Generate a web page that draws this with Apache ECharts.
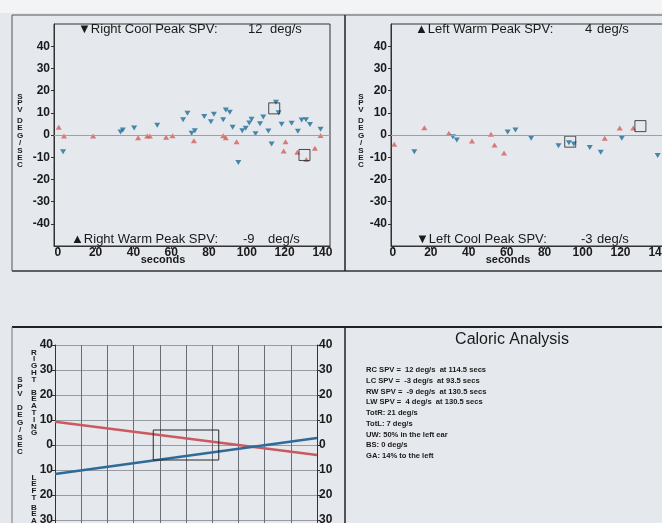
<!DOCTYPE html>
<html>
<head>
<meta charset="utf-8">
<script src="https://cdn.jsdelivr.net/npm/echarts@6.0.0/dist/echarts.min.js"></script>
<style>
html,body{margin:0;padding:0;background:#e5e8ed;}
#c{width:662px;height:523px;}
</style>
</head>
<body>
<div id="c"></div>
<script>
// ---------- DATA ----------
// Right ear (top-left panel)
const rightCoolSec = [2.8, 33.2, 34.4, 40.4, 52.6, 66.3, 68.6, 70.8, 72.5, 77.5, 81, 82.6, 87.5, 88.9, 91, 92.5, 95.5, 97.6, 99.4, 101.3, 102.5, 104.6, 107, 108.7, 111.4, 113.1, 115.4, 116.8, 118.4, 123.7, 127, 129, 131.3, 133.4, 139];
const rightCoolSpv = [-7.5, 1.4, 2.3, 3.2, 4.4, 6.9, 9.8, 0.8, 1.9, 8.3, 6, 9.4, 6.9, 11.3, 10.3, 3.5, -12.4, 1.9, 3, 5.4, 7.1, 0.6, 5.1, 8.1, 1.8, -4.1, 14.8, 10, 4.8, 5.3, 1.7, 6.8, 6.9, 4.7, 2.6];
const rightWarmSec = [0.5, 3.3, 18.7, 42.5, 47.3, 48.7, 57.3, 60.7, 72, 87.5, 88.9, 94.6, 119.5, 120.5, 126.7, 131.5, 136, 139];
const rightWarmSpv = [3.5, -0.5, -0.5, -1.2, -0.5, -0.5, -1, -0.3, -2.6, -0.3, -1.2, -3, -7.2, -3, -7.8, -11, -6, -0.2];
// Left ear (top-right panel)
const leftWarmSec = [0.7, 16.6, 29.5, 41.7, 51.7, 53.6, 58.6, 111.7, 119.6, 126.7];
const leftWarmSpv = [-4.2, 3.3, 0.8, -2.7, 0.3, -4.5, -8.1, -1.5, 3.2, 3.2];
const leftCoolSec = [11.3, 31.6, 33.7, 60.5, 64.6, 72.9, 87.3, 92.8, 95.4, 103.8, 109.6, 120.7, 139.6];
const leftCoolSpv = [-7.5, -0.8, -2.3, 1.4, 2.3, -1.5, -4.8, -3.5, -4.1, -5.6, -7.8, -1.5, -9.2];
// Peaks
const rcPeak = 12, rcPeakSec = 114.5;
const lcPeak = -3, lcPeakSec = 93.5;
const rwPeak = -9, rwPeakSec = 130.5;
const lwPeak = 4,  lwPeakSec = 130.5;
// Butterfly chart (bottom-left)
const butterflyX = [0, 10];
const rightBeatLine = [9.3, -4];
const leftBeatLine = [-11.6, 2.8];
const normalBoxX = [3.75, 6.25];
const normalBoxY = [-6, 6];
// Ticks
const secTicks = [0, 20, 40, 60, 80, 100, 120, 140];
const spvTicks = [-40, -30, -20, -10, 0, 10, 20, 30, 40];
const butterflyTicks = [-30, -20, -10, 0, 10, 20, 30, 40];
// Analysis text
const calLines = [
  'RC SPV =  ' + rcPeak + ' deg/s  at ' + rcPeakSec + ' secs',
  'LC SPV =  ' + lcPeak + ' deg/s  at ' + lcPeakSec + ' secs',
  'RW SPV =  ' + rwPeak + ' deg/s  at ' + rwPeakSec + ' secs',
  'LW SPV =  ' + lwPeak + ' deg/s  at ' + lwPeakSec + ' secs',
  'TotR: 21 deg/s',
  'TotL: 7 deg/s',
  'UW: 50% in the left ear',
  'BS: 0 deg/s',
  'GA: 14% to the left'
];

// ---------- STYLE ----------
const RED = '#d25e57', BLUE = '#1f6d96';
const FF = '"Liberation Sans", Arial, sans-serif';
const zip = (a, b) => a.map((v, i) => [v, b[i]]);

const chart = echarts.init(document.getElementById('c'), null, {renderer: 'canvas'});

function topX(gi, min) {
  return {
    type: 'value', gridIndex: gi, min: min, max: 144,
    axisLine: {show: true, onZero: false, lineStyle: {color: '#333'}},
    axisTick: {show: true, length: 3, inside: false, customValues: secTicks, lineStyle: {color: '#333'}},
    axisLabel: {customValues: secTicks, margin: 1, color: '#1a1a1a', fontSize: 12, fontWeight: 'bold', fontFamily: FF},
    splitLine: {show: false}
  };
}
function topY(gi) {
  return {
    type: 'value', gridIndex: gi, min: -50, max: 50,
    axisLine: {show: true, onZero: false, lineStyle: {color: '#333'}},
    axisTick: {show: true, length: 3, customValues: spvTicks, lineStyle: {color: '#333'}},
    axisLabel: {customValues: spvTicks, margin: 4, color: '#1a1a1a', fontSize: 12, fontWeight: 'bold', fontFamily: FF},
    splitLine: {show: false}
  };
}
function bfY(pos) {
  return {
    type: 'value', gridIndex: 2, min: -40, max: 40, interval: 5, position: pos,
    axisLine: {show: true, lineStyle: {color: '#333', width: 1}},
    axisTick: {show: true, length: 3, customValues: butterflyTicks, lineStyle: {color: '#333'}},
    axisLabel: {customValues: butterflyTicks, margin: 2, color: '#1a1a1a', fontSize: 12, fontWeight: 'bold', fontFamily: FF,
      formatter: v => String(Math.abs(v))},
    splitLine: {show: pos === 'left', lineStyle: {color: '#999ca2', width: 1}}
  };
}
function pts(gi, x, y, color, down) {
  return {
    type: 'scatter', xAxisIndex: gi, yAxisIndex: gi === 0 ? 0 : 1,
    data: zip(x, y), symbol: 'triangle', symbolSize: [6, 5], symbolRotate: down ? 180 : 0,
    itemStyle: {color: color}, silent: true, z: 3
  };
}
function peakBox(gi, data) {
  return {
    type: 'scatter', xAxisIndex: gi, yAxisIndex: gi === 0 ? 0 : 1,
    data: data, symbol: 'rect', symbolSize: 11,
    itemStyle: {color: 'rgba(0,0,0,0)', borderColor: '#222', borderWidth: 1}, silent: true, z: 4
  };
}
function zeroLine(gi) {
  return {
    type: 'line', xAxisIndex: gi, yAxisIndex: gi === 0 ? 0 : 1, data: [],
    markLine: {silent: true, symbol: 'none', label: {show: false},
      lineStyle: {color: '#93a89c', type: 'solid', width: 1},
      data: [{yAxis: 0}]}
  };
}

const txt = (x, y, text, opt) => ({
  type: 'text', x: x, y: y, silent: true,
  style: Object.assign({text: text, fill: '#1a1a1a', font: '13px ' + FF, textVerticalAlign: 'middle'}, (opt || {}).style || {})
});
const stacked = (x, y, s, lh) => ({
  type: 'text', x: x, y: y, silent: true,
  style: {text: s.split('').join('\n'), fill: '#1a1a1a', font: 'bold 8px ' + FF, lineHeight: lh || 7, textAlign: 'center'}
});
const ln = (x1, y1, x2, y2, w, c) => ({type: 'line', silent: true,
  shape: {x1: x1, y1: y1, x2: x2, y2: y2}, style: {stroke: c || '#333', lineWidth: w || 1}});

const graphics = [
  {type: 'rect', silent: true, z: -10, shape: {x: 0, y: 0, width: 662, height: 13}, style: {fill: '#f3f4f6'}},
  // frames
  ln(12, 15, 662, 15, 1, '#555'), ln(12, 271, 662, 271, 1.5, '#333'),
  ln(12, 15, 12, 271, 1, '#555'), ln(345, 15, 345, 271, 1.5, '#222'),
  ln(12, 327, 662, 327, 2, '#222'), ln(12, 327, 12, 523, 1, '#777'), ln(345, 327, 345, 523, 1.5, '#222'),
  // top-left labels
  txt(78, 29, '▼Right Cool Peak SPV:'), txt(248, 29, String(rcPeak)), txt(270, 29, 'deg/s'),
  txt(71, 239, '▲Right Warm Peak SPV:'), txt(243, 239, String(rwPeak)), txt(268, 239, 'deg/s'),
  txt(163, 260, 'seconds', {style: {font: 'bold 11px ' + FF, textAlign: 'center'}}),
  stacked(20, 93, 'SPV', 6.6), stacked(20, 117, 'DEG/SEC', 7.4),
  // top-right labels
  txt(415, 29, '▲Left Warm Peak SPV:'), txt(585, 29, String(lwPeak)), txt(597, 29, 'deg/s'),
  txt(416, 239, '▼Left Cool Peak SPV:'), txt(581, 239, String(lcPeak)), txt(597, 239, 'deg/s'),
  txt(508, 260, 'seconds', {style: {font: 'bold 11px ' + FF, textAlign: 'center'}}),
  stacked(361, 93, 'SPV', 6.6), stacked(361, 117, 'DEG/SEC', 7.4),
  // bottom-left labels
  stacked(20, 376, 'SPV', 7), stacked(20, 404, 'DEG/SEC', 7.4),
  stacked(34, 349, 'RIGHT', 6.8), stacked(34, 389, 'BEATING', 6.8),
  stacked(34, 474, 'LEFT', 6.8), stacked(34, 504, 'BEATING', 6.8),
  // caloric analysis
  txt(512, 340, 'Caloric Analysis', {style: {font: '16px ' + FF, textAlign: 'center'}})
];
calLines.forEach((s, i) => graphics.push(txt(366, 370 + i * 10.75, s, {style: {font: 'bold 7.6px ' + FF}})));

const option = {
  backgroundColor: '#e5e8ed',
  animation: false,
  grid: [
    {left: 54, top: 24, width: 276, height: 222, show: true, borderColor: '#333', borderWidth: 1, backgroundColor: 'rgba(0,0,0,0)', outerBoundsMode: 'none', containLabel: false},
    {left: 391, top: 24, width: 275, height: 222, show: true, borderColor: '#333', borderWidth: 1, backgroundColor: 'rgba(0,0,0,0)', outerBoundsMode: 'none', containLabel: false},
    {left: 55, top: 345, width: 262, height: 200, outerBoundsMode: 'none', containLabel: false}
  ],
  xAxis: [
    topX(0, -2), topX(1, -1),
    {type: 'value', gridIndex: 2, min: 0, max: 10, interval: 1,
      axisLine: {show: false}, axisTick: {show: false}, axisLabel: {show: false},
      splitLine: {show: true, lineStyle: {color: '#6a6d73', width: 1}}}
  ],
  yAxis: [topY(0), topY(1), bfY('left'), bfY('right')],
  series: [
    zeroLine(0), zeroLine(1),
    pts(0, rightWarmSec, rightWarmSpv, RED, false),
    pts(0, rightCoolSec, rightCoolSpv, BLUE, true),
    peakBox(0, [[rcPeakSec, rcPeak], [rwPeakSec, rwPeak]]),
    pts(1, leftWarmSec, leftWarmSpv, RED, false),
    pts(1, leftCoolSec, leftCoolSpv, BLUE, true),
    peakBox(1, [[lcPeakSec, lcPeak], [lwPeakSec, lwPeak]]),
    {type: 'line', xAxisIndex: 2, yAxisIndex: 2, data: zip(butterflyX, rightBeatLine), symbol: 'none',
      lineStyle: {color: '#c95a60', width: 2.5}, silent: true, z: 3},
    {type: 'line', xAxisIndex: 2, yAxisIndex: 2, data: zip(butterflyX, leftBeatLine), symbol: 'none',
      lineStyle: {color: '#2f6b96', width: 2.5}, silent: true, z: 3},
    {type: 'line', xAxisIndex: 2, yAxisIndex: 2, symbol: 'none', silent: true, z: 4,
      data: [[normalBoxX[0], normalBoxY[0]], [normalBoxX[0], normalBoxY[1]], [normalBoxX[1], normalBoxY[1]],
             [normalBoxX[1], normalBoxY[0]], [normalBoxX[0], normalBoxY[0]]],
      lineStyle: {color: '#2a2a2a', width: 1}}
  ],
  graphic: graphics
};
chart.setOption(option);
</script>
</body>
</html>
